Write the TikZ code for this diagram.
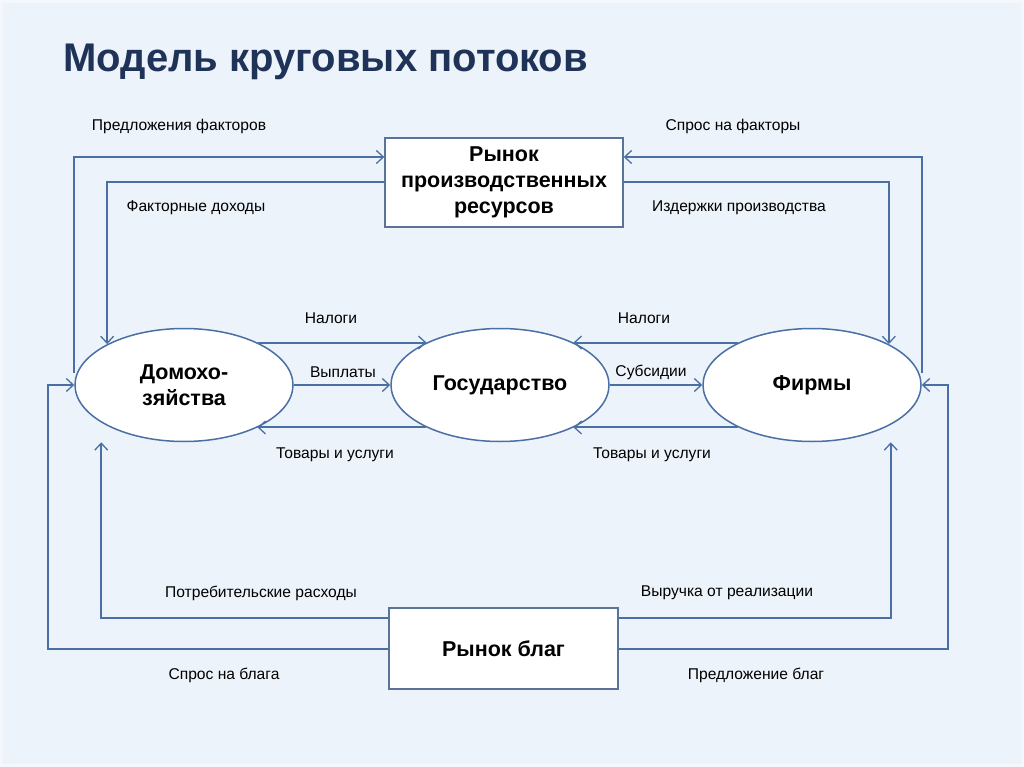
\documentclass[tikz,border=0pt]{standalone}
\usepackage{fontspec}
\setmainfont{Liberation Sans}
\usepackage{tikz}
\usetikzlibrary{calc}
\usetikzlibrary{positioning}
\usetikzlibrary{arrows.meta}
\usetikzlibrary{shapes.geometric}

\definecolor{bgblue}{HTML}{EDF3FA}
\definecolor{bgedge}{HTML}{F4F8FC}
\definecolor{flowblue}{HTML}{4A6FA5}
\definecolor{boxline}{HTML}{5B7396}
\definecolor{titleblue}{HTML}{1F3257}

\tikzset{
  market/.style={draw=boxline,line width=1.4pt,fill=white,inner sep=0pt,align=center,
    font=\fontsize{21.5}{26}\selectfont\bfseries},
  agent/.style={ellipse,draw=flowblue,line width=1.5pt,fill=white,inner sep=0pt,
    minimum width=218pt,minimum height=113pt,align=center,
    font=\fontsize{21.5}{26}\selectfont\bfseries},
  flow/.style={draw=flowblue,line width=2pt,-{Straight Barb[length=7pt,width=13pt,line width=1.3pt]}},
  lbl/.style={font=\fontsize{15.6}{18}\selectfont,inner sep=0pt}
}

\begin{document}
\begin{tikzpicture}[x=1pt,y=-1pt]
      \fill[bgedge] (0,0) rectangle (1024,767);
      \fill[bgblue] (3,3) rectangle (1021,764);
      \node[anchor=west,text=titleblue,font=\fontsize{40}{44}\selectfont\bfseries] (title) at (60,62) {Модель круговых потоков};

      \node[market,minimum width=238pt,minimum height=89pt] (rf) at (504,182.5) {Рынок\\производственных\\ресурсов};
      \node[market,minimum width=229pt,minimum height=81pt] (rb) at (503.5,648.5) {Рынок благ};

      \node[agent] (hh) at (184,385) {Домохо-\\зяйства};
      \node[agent] (gov) at (500,385) {Государство};
      \node[agent] (firm) at (812,385) {Фирмы};

      % factor market
      \draw[flow] ([yshift=12pt]hh.west) |- ([yshift=25.5pt]rf.west);
      \draw[flow] (rf.west) -| (hh.152);
      \draw[flow] ([yshift=12pt]firm.east) |- ([yshift=25.5pt]rf.east);
      \draw[flow] (rf.east) -| (firm.28);

      % goods market
      \draw[flow] (rb.west) -- ++(-340,0) |- (hh.west);
      \draw[flow] ([yshift=30.5pt]rb.west) -| ($(hh.west |- hh.south)+(27,0)$);
      \draw[flow] (rb.east) -- ++(329,0) |- (firm.east);
      \draw[flow] ([yshift=30.5pt]rb.east) -| ($(firm.east |- firm.south)+(-31,0)$);

      % state
      \draw[flow] (hh.30) -- (gov.150);
      \draw[flow] (hh.east) -- (gov.west);
      \draw[flow] (gov.210) -- (hh.330);
      \draw[flow] (firm.150) -- (gov.30);
      \draw[flow] (gov.east) -- (firm.west);
      \draw[flow] (firm.210) -- (gov.330);

      \node[lbl] (l1) at (179,126) {Предложения факторов};
      \node[lbl] (l2) at (733,126) {Спрос на факторы};
      \node[lbl] (l3) at (196,208) {Факторные доходы};
      \node[lbl] (l4) at (739,208) {Издержки производства};
      \node[lbl] (l5) at (331,318) {Налоги};
      \node[lbl] (l6) at (644,318) {Налоги};
      \node[lbl] (l7) at (343,372) {Выплаты};
      \node[lbl] (l8) at (651,372) {Субсидии};
      \node[lbl] (l9) at (335,455) {Товары и услуги};
      \node[lbl] (l10) at (652,455) {Товары и услуги};
      \node[lbl] (l11) at (261,593) {Потребительские расходы};
      \node[lbl] (l12) at (727,593) {Выручка от реализации};
      \node[lbl] (l13) at (224,675) {Спрос на блага};
      \node[lbl] (l14) at (756,675) {Предложение благ};
\end{tikzpicture}
\end{document}
